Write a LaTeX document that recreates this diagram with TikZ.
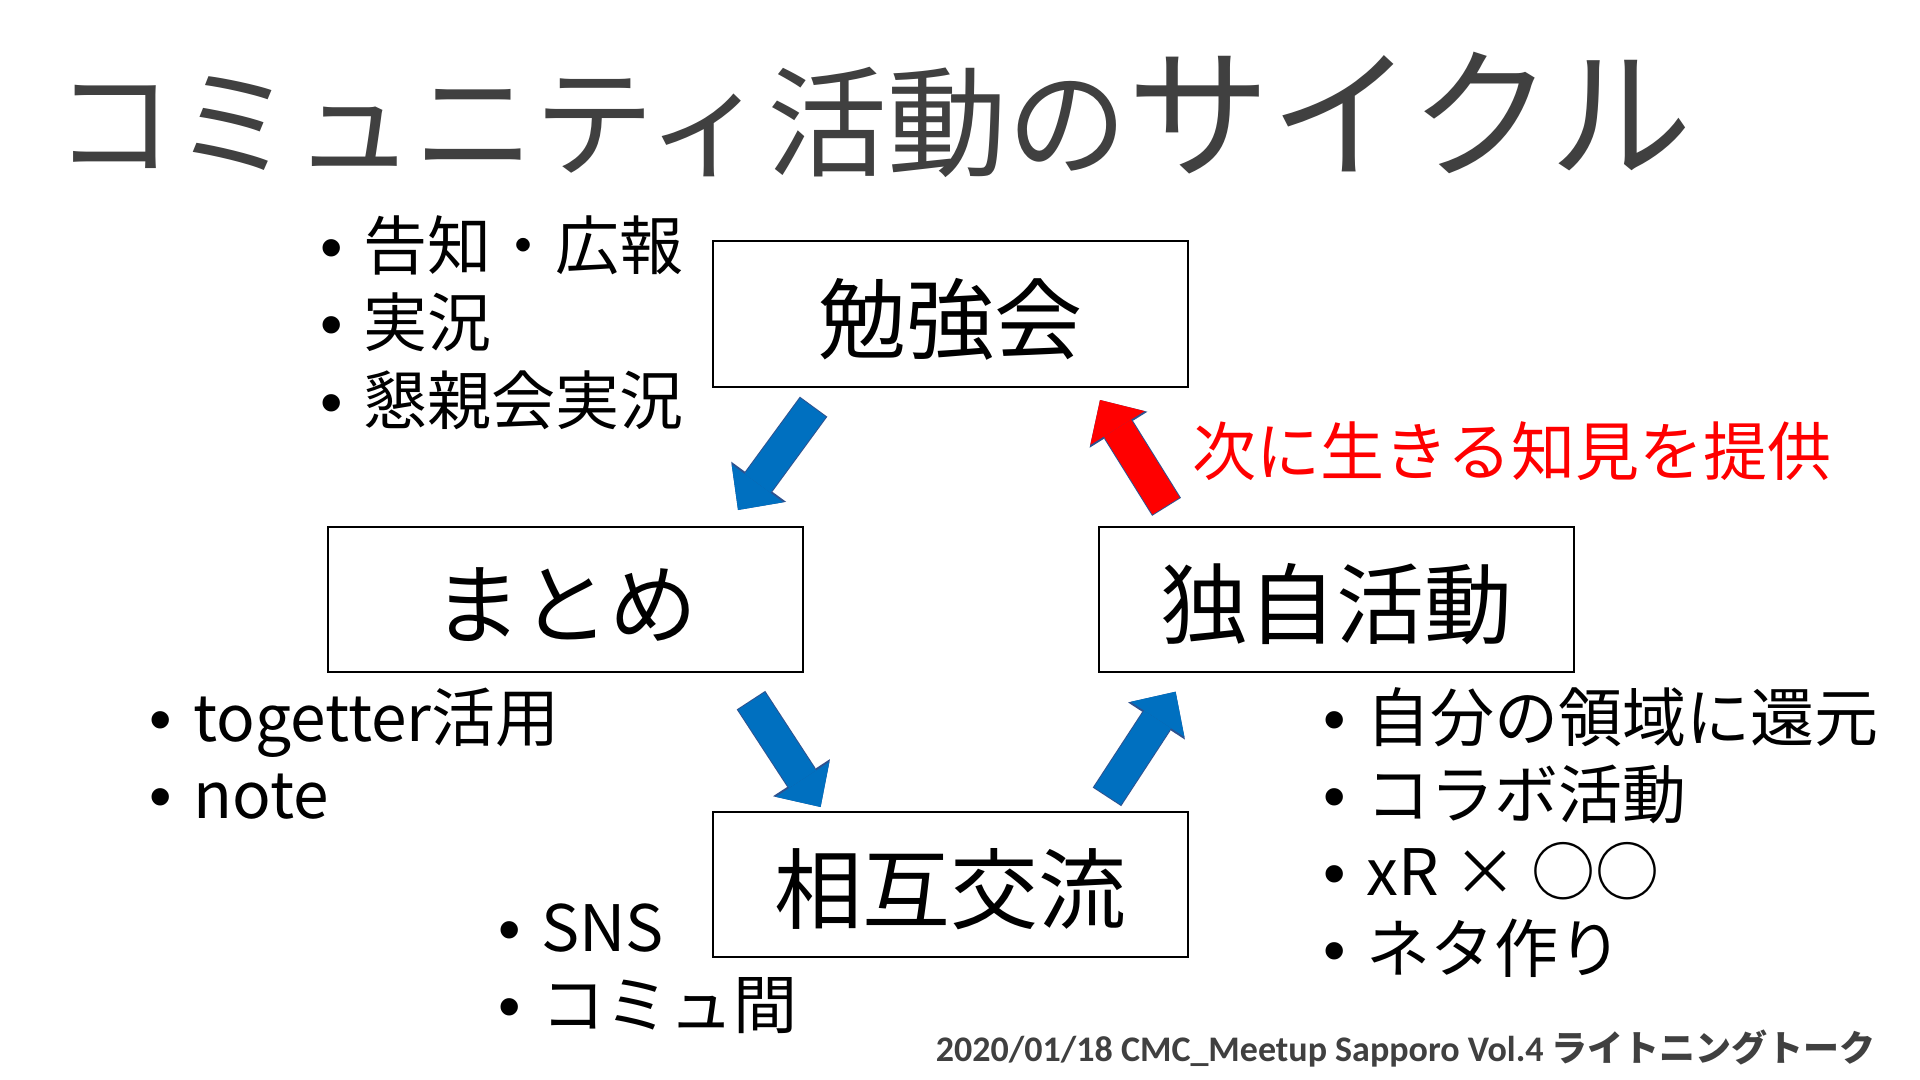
\documentclass[tikz,border=0pt]{standalone}
\usepackage{fontspec}
\setmainfont{Noto Sans CJK JP}
\newfontfamily\bulfont{Liberation Sans}
\newfontfamily\footfont{Carlito}
\usetikzlibrary{arrows.meta}

\definecolor{titlegray}{HTML}{404040}
\definecolor{arrowblue}{HTML}{0070C0}
\definecolor{arrowedge}{HTML}{2F528F}

\newcommand{\bul}{\llap{{\bulfont •}\hspace{10.5pt}}}

\tikzset{
stage/.style={draw, line width=1pt, minimum width=237.5pt, minimum height=72.5pt, inner sep=0pt,
  text height=39.6pt, text depth=1.2pt, font=\fontsize{44pt}{44pt}\selectfont},
item/.style={anchor=base west, inner sep=0pt, font=\fontsize{32pt}{32pt}\selectfont},
flow/.style={line width=16pt, draw=#1, -{Triangle[length=16.5pt,width=32pt,line width=0pt]},
  preaction={draw=arrowedge, line width=17pt, shorten <=-0.5pt, -{Triangle[length=17.5pt,width=34pt,line width=0pt]}}}
}

\begin{document}
\begin{tikzpicture}
[x=0.5pt,y=-0.5pt]

\useasboundingbox (0,0) rectangle (1920,1080);
\fill[white] (0,0) rectangle (1920,1080);

\node[anchor=base west, inner sep=0pt, text=titlegray] (title) at (54,168)
  {\fontsize{60pt}{60pt}\selectfont コミュニティ活動の\fontsize{71.5pt}{72pt}\selectfont サイクル};

\node[stage] (benkyo) at (950.5,314) {勉強会};
\node[stage] (matome) at (565.5,599.5) {まとめ};
\node[stage] (dokuji) at (1336,599.5) {独自活動};
\node[stage] (sougo) at (950.5,884) {相互交流};

\node[item] (kokuchi) at (363,270) {\bul 告知・広報};
\node[item] (jikkyo) at (363,347) {\bul 実況};
\node[item] (konshin) at (363,424) {\bul 懇親会実況};

\node[item] (togetter) at (193,741) {\bul togetter活用};
\node[item] (note) at (193,818) {\bul note};

\node[item] (sns) at (541,951) {\bul SNS};
\node[item] (commu) at (541,1028) {\bul コミュ間};

\node[item] (kangen) at (1366,741) {\bul 自分の領域に還元};
\node[item] (collab) at (1366,818) {\bul コラボ活動};
\node[item] (xr) at (1366,895) {\bul xR × ○○};
\node[item] (neta) at (1366,972) {\bul ネタ作り};

\node[item, text=red] (chiken) at (1192,475) {次に生きる知見を提供};

\coordinate (a1s) at (813,407.5); \coordinate (a1e) at (738,510);
\coordinate (a2s) at (751.5,701); \coordinate (a2e) at (820.6,807);
\coordinate (a3s) at (1107.5,796); \coordinate (a3e) at (1175.6,691.7);
\coordinate (a4s) at (1166,506); \coordinate (a4e) at (1100,400);

\draw[flow=arrowblue] (a1s) -- (a1e); %benkyo to matome
\draw[flow=arrowblue] (a2s) -- (a2e); %matome to sougo
\draw[flow=arrowblue] (a3s) -- (a3e); %sougo to dokuji
\draw[flow=red] (a4s) -- (a4e); %dokuji back to benkyo

\node[anchor=base east, inner sep=0pt, text=titlegray] (footer) at (1876,1061)
  {\footfont\bfseries\fontsize{18pt}{18pt}\selectfont 2020/01/18 CMC\_Meetup Sapporo Vol.4 {\rmfamily ライトニングトーク}};

\end{tikzpicture}
\end{document}
